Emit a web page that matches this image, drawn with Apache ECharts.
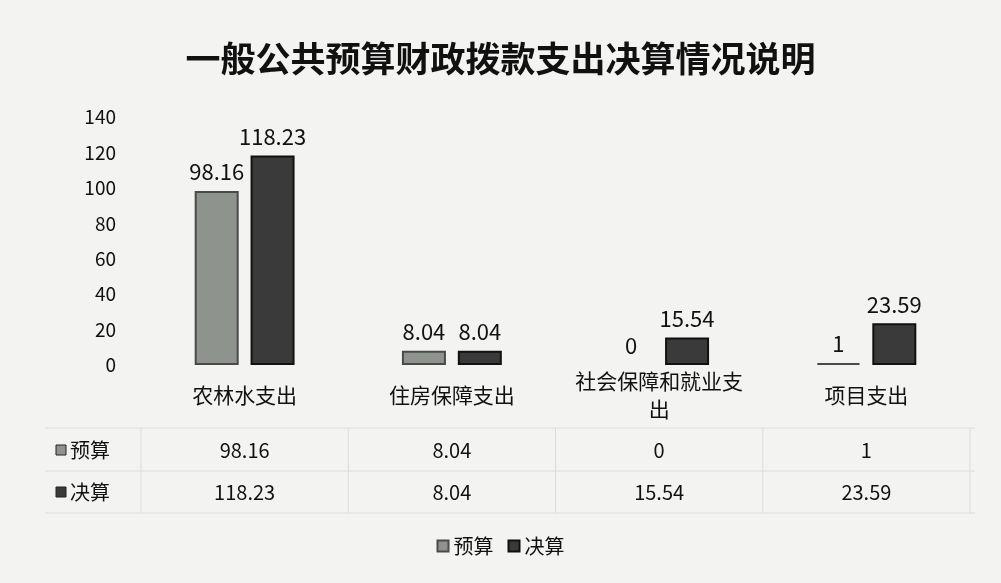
<!DOCTYPE html>
<html><head><meta charset="utf-8">
<script src="https://cdn.jsdelivr.net/npm/echarts@6/dist/echarts.min.js"></script>
<style>html,body{margin:0;padding:0;background:#f3f3f1;}#c{width:1001px;height:583px;}</style>
</head><body><div id="c"></div>
<script>
const titleText = '一般公共预算财政拨款支出决算情况说明';
const categories = ['农林水支出', '住房保障支出', '社会保障和就业支出', '项目支出'];
const seriesNames = ['预算', '决算'];
const budget = [98.16, 8.04, 0, 1];
const finalAcct = [118.23, 8.04, 15.54, 23.59];
const yTicks = [0, 20, 40, 60, 80, 100, 120, 140];

const FONT = '"Noto Sans CJK SC", "Noto Sans", sans-serif';
const chart = echarts.init(document.getElementById('c'));
const colors = ['#8e938e', '#3a3a3a'];
const borders = ['#4a4a4a', '#111111'];

const option = {
  backgroundColor: '#f3f3f1',
  animation: false,
  title: {
    text: titleText, left: 'center', top: 36,
    textStyle: { fontFamily: FONT, fontSize: 35, fontWeight: 'bold', color: '#111' }
  },
  legend: {
    data: seriesNames, bottom: 22, left: 'center', itemWidth: 11, itemHeight: 11, itemGap: 14,
    icon: 'rect',
    textStyle: { fontFamily: FONT, fontSize: 20, color: '#111' }
  },
  grid: { left: 141, right: 31, top: 117, bottom: 218 },
  xAxis: {
    type: 'category', data: categories,
    axisLine: { show: false }, axisTick: { show: false },
    axisLabel: {
      interval: 0, margin: 30, verticalAlign: 'middle', width: 178, overflow: 'breakAll',
      lineHeight: 28, fontFamily: FONT, fontSize: 21, color: '#111'
    }
  },
  yAxis: {
    type: 'value', min: yTicks[0], max: yTicks[yTicks.length - 1], interval: yTicks[1] - yTicks[0],
    axisLine: { show: false }, axisTick: { show: false }, splitLine: { show: false },
    axisLabel: { margin: 25, fontFamily: FONT, fontSize: 19, color: '#111' }
  },
  series: [budget, finalAcct].map((d, i) => ({
    name: seriesNames[i], type: 'bar', barWidth: 44, barGap: '27%',
    data: d.map((v) => (v === 0 ? { value: v, itemStyle: { borderWidth: 0 } } : v)),
    itemStyle: { color: colors[i], borderColor: borders[i], borderWidth: 2 },
    label: { show: true, position: 'top', distance: 8, fontFamily: FONT, fontSize: 22, color: '#111' }
  }))
};
chart.setOption(option);

// data table below the plot, built from the same arrays
const rows = [budget, finalAcct];
const rowY = [450, 492];
const g = [];
const xs = categories.map((c) => chart.convertToPixel({ xAxisIndex: 0 }, c));
const half = (xs[1] - xs[0]) / 2;
const tableTop = 428, tableBot = 513, tableLeft = 45, tableRight = xs[xs.length - 1] + half + 5;
const lineStyle = { stroke: '#dcdcda', lineWidth: 1 };
[tableTop, (rowY[0] + rowY[1]) / 2, tableBot].forEach((y) => {
  g.push({ type: 'line', shape: { x1: tableLeft, y1: y, x2: tableRight, y2: y }, style: lineStyle, silent: true });
});
[xs[0] - half].concat(xs.map((x) => x + half)).forEach((x) => {
  g.push({ type: 'line', shape: { x1: x, y1: tableTop, x2: x, y2: tableBot }, style: lineStyle, silent: true });
});
rows.forEach((r, ri) => {
  g.push({ type: 'rect', shape: { x: 56, y: rowY[ri] - 5, width: 10, height: 10 },
    style: { fill: colors[ri], stroke: '#222', lineWidth: 1 } });
  g.push({ type: 'text', x: 70, y: rowY[ri],
    style: { text: seriesNames[ri], fontFamily: FONT, fontSize: 20, fill: '#111', verticalAlign: 'middle' } });
  r.forEach((v, ci) => {
    g.push({ type: 'text', x: xs[ci], y: rowY[ri],
      style: { text: String(v), fontFamily: FONT, fontSize: 20, fill: '#111', align: 'center', verticalAlign: 'middle' } });
  });
});
chart.setOption({ graphic: g });
</script></body></html>
